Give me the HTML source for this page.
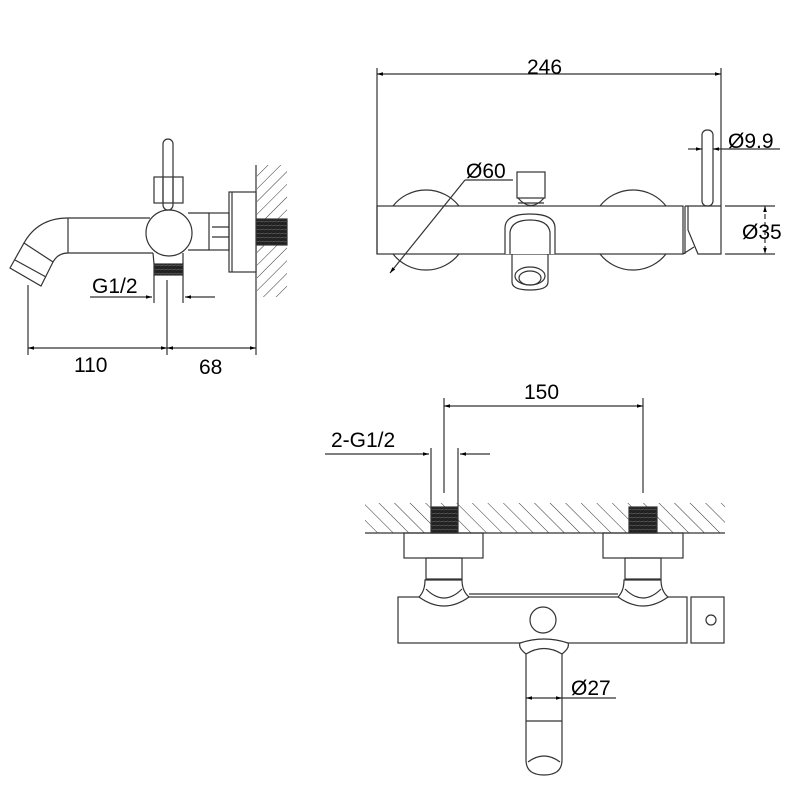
<!DOCTYPE html>
<html><head><meta charset="utf-8"><style>
html,body{margin:0;padding:0;background:#fff}
svg{display:block}
text{font-family:"Liberation Sans",Arial,sans-serif;fill:#000}
</style></head><body>
<svg width="800" height="800" viewBox="0 0 800 800" xmlns="http://www.w3.org/2000/svg">
<defs>
<pattern id="h1" patternUnits="userSpaceOnUse" width="9" height="9" patternTransform="rotate(45)">
<line x1="0" y1="0" x2="0" y2="9" stroke="#333" stroke-width="1"/></pattern>
<pattern id="h2" patternUnits="userSpaceOnUse" width="11" height="11" patternTransform="rotate(-45)">
<line x1="0" y1="0" x2="0" y2="11" stroke="#333" stroke-width="1"/></pattern>
<pattern id="thr" patternUnits="userSpaceOnUse" width="4" height="4">
<rect width="4" height="4" fill="#222"/><line x1="0" y1="2" x2="4" y2="1" stroke="#777" stroke-width="0.6"/></pattern>
<marker id="a" viewBox="0 0 10 10" refX="10" refY="5" markerWidth="7" markerHeight="5" orient="auto-start-reverse"><path d="M0,2 L10,5 L0,8z" fill="#000"/></marker>
</defs>
<g fill="none" stroke="#333" stroke-width="1.2">
<!-- SIDE VIEW -->
<rect x="257" y="165" width="30" height="132" fill="url(#h1)" stroke="none"/>
<line x1="256" y1="165" x2="256" y2="355"/>
<rect x="256" y="219" width="31" height="26" fill="url(#thr)"/>
<rect x="229" y="192" width="27" height="80" fill="#fff"/>
<line x1="232" y1="192" x2="232" y2="272"/>
<rect x="209" y="213" width="20" height="37"/>
<line x1="212" y1="227" x2="229" y2="227"/><line x1="212" y1="237" x2="229" y2="237"/>
<line x1="68" y1="218" x2="150" y2="218"/><line x1="68" y1="253" x2="153" y2="253"/>
<line x1="68" y1="218" x2="68" y2="253"/>
<line x1="188" y1="213" x2="209" y2="213"/><line x1="188" y1="250" x2="209" y2="250"/>
<path d="M24,243 Q38,218 68,218"/><path d="M53,262 Q58,253 68,253"/>
<path d="M24,243 L53,262 L41,286 L10,268 Z" fill="#fff"/>
<line x1="15" y1="260" x2="46" y2="277"/>
<circle cx="169" cy="233" r="23" fill="#fff"/>
<rect x="163" y="139" width="10" height="71" rx="5" fill="#fff"/>
<rect x="154" y="177" width="29" height="26"/>
<line x1="163" y1="177" x2="163" y2="203"/><line x1="173" y1="177" x2="173" y2="203"/>
<path d="M153,253 L154,264 M183,253 L183,264"/>
<rect x="154" y="264" width="29" height="11" fill="url(#thr)"/>
<line x1="154" y1="275" x2="154" y2="303"/><line x1="183" y1="275" x2="183" y2="303"/>
<line x1="167" y1="280" x2="167" y2="355"/>
<line x1="28" y1="285" x2="28" y2="355"/>
<line x1="90" y1="297" x2="152" y2="297" marker-end="url(#a)"/>
<line x1="215" y1="297" x2="185" y2="297" marker-end="url(#a)"/>
<line x1="28" y1="348" x2="167" y2="348" marker-start="url(#a)" marker-end="url(#a)"/>
<line x1="167" y1="348" x2="256" y2="348" marker-start="url(#a)" marker-end="url(#a)"/>

<!-- TOP VIEW -->
<line x1="377" y1="68" x2="377" y2="254"/><line x1="721" y1="68" x2="721" y2="206"/>
<line x1="377" y1="74" x2="721" y2="74" marker-start="url(#a)" marker-end="url(#a)"/>
<path d="M393,206 A42,42 0 0 1 459,206"/><path d="M393,254 A42,42 0 0 0 459,254"/>
<path d="M600,206 A42,42 0 0 1 666,206"/><path d="M600,254 A42,42 0 0 0 666,254"/>
<rect x="377" y="206" width="306" height="48"/>
<rect x="517" y="172" width="28" height="26"/>
<path d="M518,198 Q531,213 544,198 M518,203 L544,203"/>
<path d="M505,254 L505,228 Q505,214 530,214 Q555,214 555,228 L555,254" fill="#fff"/>
<path d="M510,254 L510,232 Q512,220 530,220 Q548,220 550,232 L550,254"/>
<path d="M512,254 L512,282 Q512,290 530,290 Q548,290 548,282 L548,254"/>
<ellipse cx="530" cy="276" rx="15" ry="9"/><ellipse cx="530" cy="278" rx="11" ry="7"/>
<path d="M685,206 L721,206 L721,254 L698,254 L688,230 L688,206"/>
<line x1="685" y1="206" x2="685" y2="254"/>
<line x1="683" y1="254" x2="694" y2="247"/>
<rect x="702" y="130" width="11" height="76" rx="5"/>
<line x1="390" y1="273" x2="465" y2="180" marker-start="url(#a)"/><line x1="465" y1="180" x2="513" y2="180"/>
<line x1="688" y1="149" x2="702" y2="149" marker-end="url(#a)"/>
<line x1="780" y1="149" x2="713" y2="149" marker-end="url(#a)"/>
<line x1="725" y1="206" x2="775" y2="206"/><line x1="725" y1="254" x2="775" y2="254"/>
<line x1="765" y1="206" x2="765" y2="254" stroke-dasharray="5,3" marker-start="url(#a)" marker-end="url(#a)"/>

<!-- BOTTOM VIEW -->
<rect x="365" y="503" width="360" height="30" fill="url(#h2)" stroke="none"/>
<line x1="365" y1="533" x2="725" y2="533"/>
<rect x="431" y="507" width="27" height="26" fill="url(#thr)"/>
<rect x="629" y="507" width="28" height="26" fill="url(#thr)"/>
<line x1="444" y1="398" x2="444" y2="493"/><line x1="643" y1="398" x2="643" y2="493"/>
<line x1="444" y1="406" x2="643" y2="406" marker-start="url(#a)" marker-end="url(#a)"/>
<line x1="431" y1="448" x2="431" y2="507"/><line x1="458" y1="448" x2="458" y2="507"/>
<line x1="325" y1="454" x2="429" y2="454" marker-end="url(#a)"/>
<line x1="490" y1="454" x2="460" y2="454" marker-end="url(#a)"/>
<rect x="404" y="533" width="79" height="25"/><rect x="603" y="533" width="80" height="25"/>
<rect x="426" y="558" width="36" height="21"/><rect x="625" y="558" width="36" height="21"/>
<rect x="398" y="597" width="289" height="46"/>
<line x1="469" y1="594" x2="618" y2="594"/>
<path d="M425,580 Q425,591 419,597 Q444,615 469,597 Q462,591 462,580 Z" fill="#fff"/>
<path d="M426,589 Q444,607 462,589"/>
<path d="M624,580 Q624,591 618,597 Q643,615 668,597 Q661,591 661,580 Z" fill="#fff"/>
<path d="M625,589 Q643,607 661,589"/>
<rect x="691" y="597" width="33" height="46"/>
<circle cx="711" cy="620" r="5"/><circle cx="543" cy="620" r="13"/>
<path d="M526,760 L526,654 Q518,648 520,643 Q544,635 568,643 Q570,648 562,654 L562,760 Q562,775 544,775 Q526,775 526,760 Z" fill="#fff"/>
<path d="M526,654 Q544,643 562,654"/>
<line x1="526" y1="721" x2="562" y2="721"/>
<path d="M528,762 Q544,750 560,762"/>
<line x1="526" y1="698" x2="562" y2="698" marker-start="url(#a)" marker-end="url(#a)"/>
<line x1="562" y1="698" x2="616" y2="698"/>
</g>
<g font-size="21">
<text x="92" y="293">G1/2</text>
<text x="74" y="372">110</text>
<text x="199" y="374">68</text>
<text x="527" y="74">246</text>
<text x="466" y="178">Ø60</text>
<text x="728" y="148">Ø9.9</text>
<text x="742" y="239">Ø35</text>
<text x="524" y="399">150</text>
<text x="331" y="447">2-G1/2</text>
<text x="571" y="695">Ø27</text>
</g>
</svg>
</body></html>
